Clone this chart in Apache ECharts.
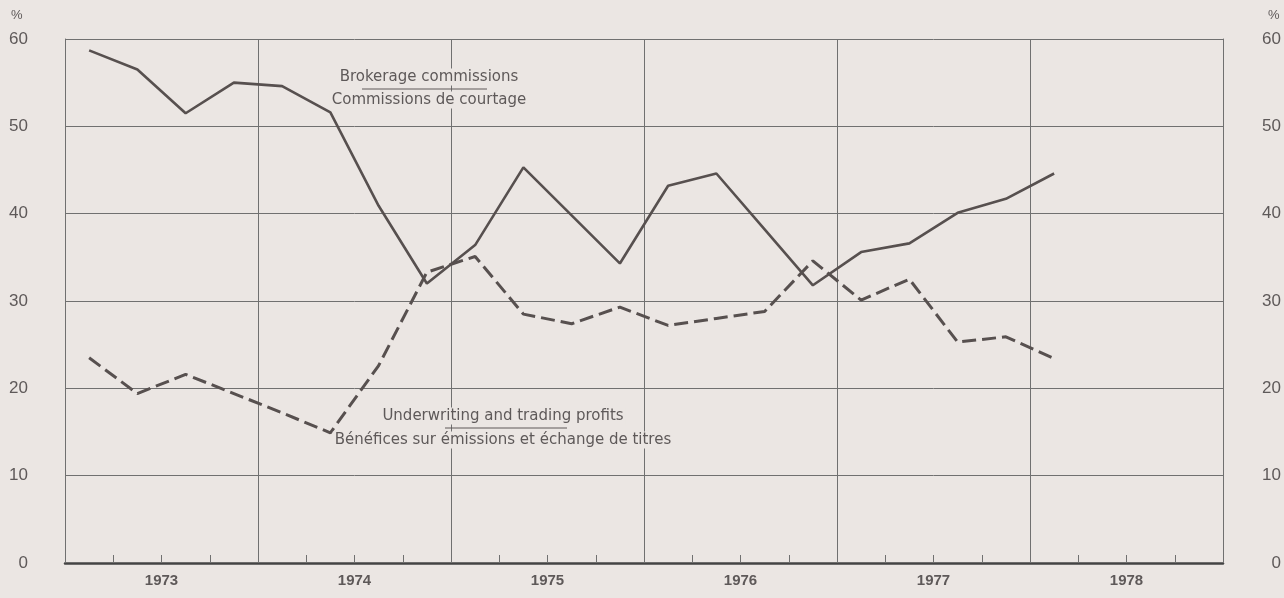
<!DOCTYPE html>
<html>
<head>
<meta charset="utf-8">
<script src="https://cdn.jsdelivr.net/npm/echarts@6/dist/echarts.min.js"></script>
<style>
html,body{margin:0;padding:0;background:#ebe6e3;}
#chart{width:1284px;height:598px;}
</style>
</head>
<body>
<div id="chart"></div>
<script>
const years = ['1973','1974','1975','1976','1977','1978'];
const quarters = [
  '1973 I','1973 II','1973 III','1973 IV',
  '1974 I','1974 II','1974 III','1974 IV',
  '1975 I','1975 II','1975 III','1975 IV',
  '1976 I','1976 II','1976 III','1976 IV',
  '1977 I','1977 II','1977 III','1977 IV',
  '1978 I','1978 II','1978 III','1978 IV'
];
const yTicks = [0, 10, 20, 30, 40, 50, 60];
const brokerage = [58.7, 56.5, 51.5, 55.0, 54.6, 51.6, 40.9, 32.0, 36.4, 45.3, 39.8,
  34.3, 43.2, 44.6, 38.2, 31.8, 35.6, 36.6, 40.1, 41.7, 44.6];
const underwriting = [23.5, 19.4, 21.6, 19.4, 17.2, 14.9, 22.6, 33.3, 35.1, 28.5, 27.4,
  29.3, 27.2, 28.0, 28.8, 34.6, 30.1, 32.5, 25.3, 25.9, 23.4];

const FONT = '"Liberation Sans", Arial, sans-serif';
const AFONT = '"DejaVu Sans", "Liberation Sans", sans-serif';
const TXT = '#5e5959';
const GRIDC = '#707070';
const LINEC = '#57504f';
const BG = '#ebe6e3';

function note(x, y, text) {
  return {type: 'text', x: x, y: y, z: 10,
    style: {text: text, font: '15px ' + AFONT, fill: TXT, align: 'center', verticalAlign: 'middle',
      backgroundColor: BG, padding: [1, 2]}};
}

const chart = echarts.init(document.getElementById('chart'), null, {renderer: 'canvas'});
chart.setOption({
  backgroundColor: BG,
  animation: false,
  grid: {left: 65, right: 60, top: 39, bottom: 35},
  xAxis: [
    {
      type: 'category', data: years, boundaryGap: true, position: 'bottom',
      axisLine: {show: true, lineStyle: {color: '#444', width: 2.5}},
      axisTick: {show: false},
      axisLabel: {show: true, margin: 10, fontFamily: FONT, fontSize: 15, fontWeight: 'bold', color: TXT},
      splitLine: {show: true, lineStyle: {color: GRIDC, width: 1}}
    },
    {
      type: 'category', data: quarters, boundaryGap: true, position: 'bottom',
      axisLine: {show: false},
      axisTick: {show: true, inside: true, length: 8, interval: 0, lineStyle: {color: GRIDC, width: 1}},
      axisLabel: {show: false},
      splitLine: {show: false}
    }
  ],
  yAxis: [
    {
      type: 'value', min: yTicks[0], max: yTicks[yTicks.length - 1], interval: 10, position: 'left',
      axisLine: {show: true, lineStyle: {color: GRIDC, width: 1}},
      axisTick: {show: false},
      axisLabel: {margin: 37, align: 'right', fontFamily: FONT, fontSize: 17, color: TXT},
      splitLine: {show: true, lineStyle: {color: GRIDC, width: 1}}
    },
    {
      type: 'value', min: yTicks[0], max: yTicks[yTicks.length - 1], interval: 10, position: 'right',
      axisLine: {show: true, lineStyle: {color: GRIDC, width: 1}},
      axisTick: {show: false},
      axisLabel: {margin: 58, align: 'right', fontFamily: FONT, fontSize: 17, color: TXT},
      splitLine: {show: false}
    }
  ],
  series: [
    {
      name: 'Brokerage commissions', type: 'line', xAxisIndex: 1, yAxisIndex: 0,
      data: brokerage, symbol: 'none', smooth: false,
      lineStyle: {color: LINEC, width: 2.6, type: 'solid'}
    },
    {
      name: 'Underwriting and trading profits', type: 'line', xAxisIndex: 1, yAxisIndex: 0,
      data: underwriting, symbol: 'none', smooth: false,
      lineStyle: {color: LINEC, width: 3, type: [14, 6]}
    }
  ],
  graphic: [
    {type: 'text', left: 11, top: 9, style: {text: '%', font: '13px ' + FONT, fill: TXT}},
    {type: 'text', left: 1268, top: 9, style: {text: '%', font: '13px ' + FONT, fill: TXT}},
    note(429, 77, 'Brokerage commissions'),
    note(429, 100, 'Commissions de courtage'),
    {type: 'line', z: 11, shape: {x1: 362, y1: 89, x2: 487, y2: 89}, style: {stroke: TXT, lineWidth: 1}},
    note(503, 416, 'Underwriting and trading profits'),
    note(503, 440, 'Bénéfices sur émissions et échange de titres'),
    {type: 'line', z: 11, shape: {x1: 445, y1: 428, x2: 567, y2: 428}, style: {stroke: TXT, lineWidth: 1}}
  ]
});
</script>
</body>
</html>
